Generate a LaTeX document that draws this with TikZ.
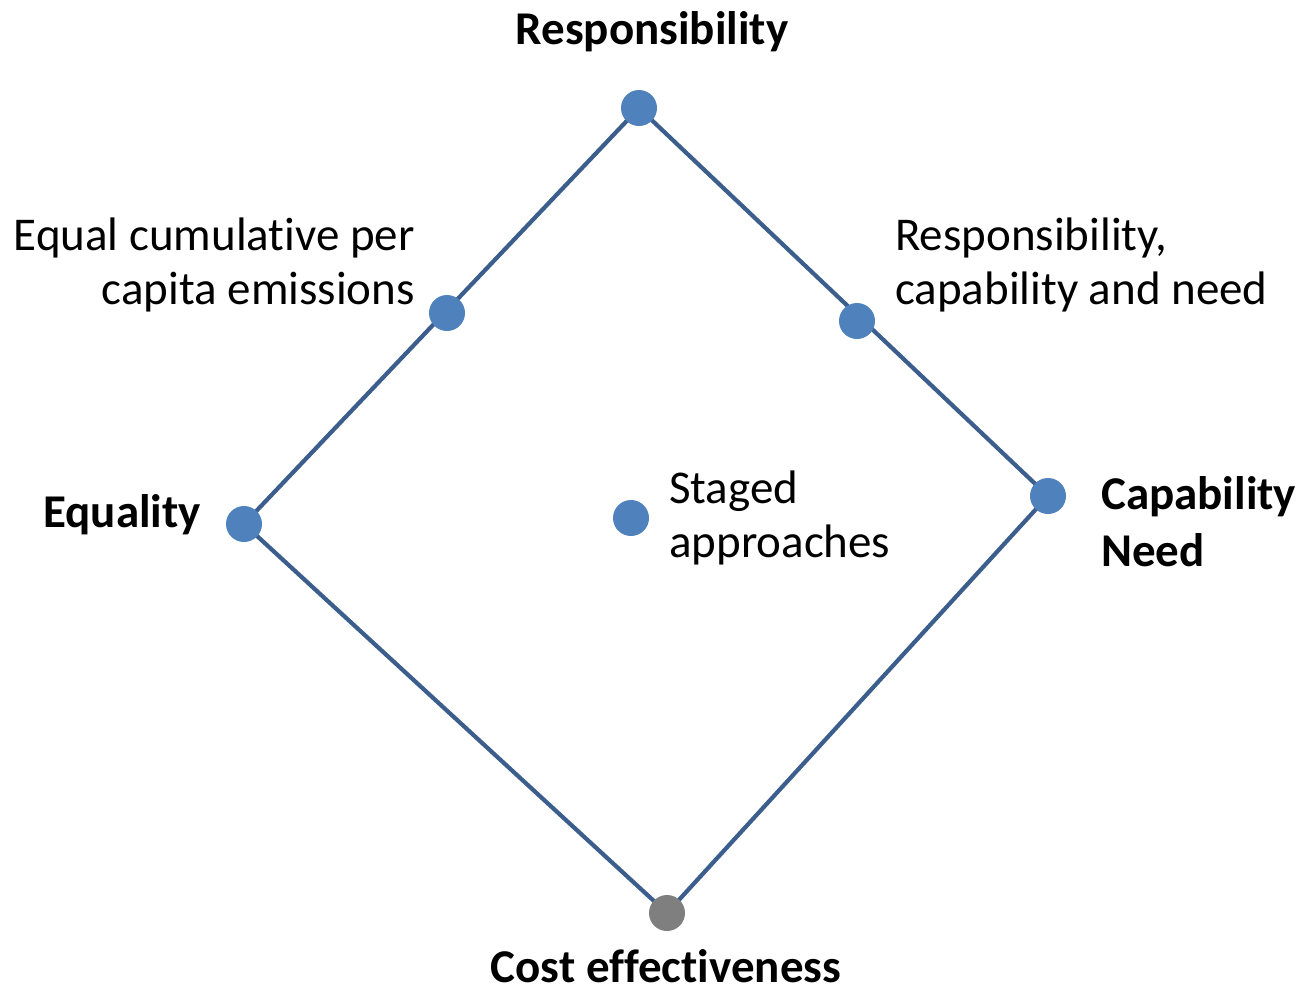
\documentclass[tikz,border=0pt]{standalone}
\usepackage{fontspec}
\setmainfont[RawFeature={-liga}]{Carlito}
\definecolor{dotblue}{HTML}{4F81BD}
\definecolor{edgeblue}{HTML}{3B5E8C}
\definecolor{dotgray}{HTML}{7F7F7F}
\begin{document}
\begin{tikzpicture}[x=1pt,y=-1pt,
  dot/.style={circle,fill=dotblue,minimum size=36pt,inner sep=0pt},
  graydot/.style={dot,fill=dotgray},
  edge/.style={draw=edgeblue,line width=4.2pt},
  lbl/.style={inner sep=0pt,font=\fontsize{47}{56}\selectfont},
  blbl/.style={lbl,font=\fontsize{47}{56}\selectfont\bfseries}]
\useasboundingbox (0,0) rectangle (1301,989);
\coordinate (cR) at (639,108);
\coordinate (cE) at (244,524);
\coordinate (cC) at (1048,496);
\coordinate (cB) at (667,913);
\draw[edge] (cR) -- (cE) -- (cB) -- (cC) -- cycle;
\node[dot] (R) at (cR) {};
\node[dot] (E) at (cE) {};
\node[dot] (C) at (cC) {};
\node[graydot] (B) at (cB) {};
\node[dot] (EC) at (447,313) {};
\node[dot] (RCN) at (857,321) {};
\node[dot] (S) at (631,518) {};
% labels
\node[blbl,anchor=base] (tR) at (652,44) {Responsibility};
\node[lbl,anchor=base east] (tEC1) at (415,250) {Equal cumulative per};
\node[lbl,anchor=base east] (tEC2) at (415,304) {capita emissions};
\node[lbl,anchor=base west] (tRCN1) at (895,250) {Responsibility,};
\node[lbl,anchor=base west] (tRCN2) at (895,304) {capability and need};
\node[blbl,anchor=base east] (tE) at (201,527) {Equality};
\node[lbl,anchor=base west] (tS1) at (669,503) {Staged};
\node[lbl,anchor=base west] (tS2) at (669,557) {approaches};
\node[blbl,anchor=base west] (tC1) at (1101,509) {Capability};
\node[blbl,anchor=base west] (tC2) at (1101,566) {Need};
\node[blbl,anchor=base] (tB) at (666,982) {Cost effectiveness};
\end{tikzpicture}
\end{document}
